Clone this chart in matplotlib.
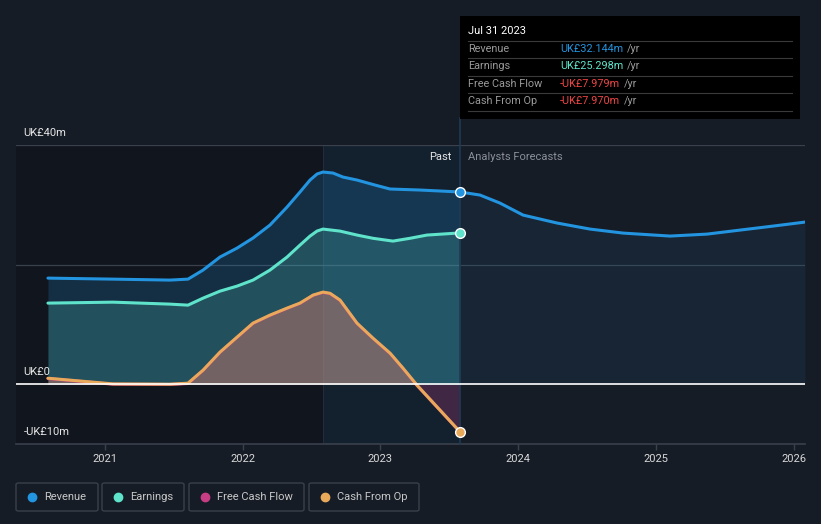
import matplotlib
matplotlib.use("Agg")
import matplotlib.pyplot as plt
from matplotlib.patches import FancyBboxPatch, Rectangle
from matplotlib.lines import Line2D

plt.rcParams['font.family'] = ['Roboto', 'DejaVu Sans']

# ---------------- data (UK£ m, decimal years) ----------------
rev_x = [2020.586, 2021.058, 2021.472, 2021.603, 2021.712, 2021.835, 2021.959, 2022.075,
         2022.198, 2022.322, 2022.416, 2022.489, 2022.540, 2022.583, 2022.656, 2022.728,
         2022.830, 2022.961, 2023.070, 2023.288, 2023.578]
rev_y = [17.74, 17.57, 17.41, 17.57, 19.08, 21.26, 22.76, 24.44,
         26.61, 29.62, 32.13, 34.14, 35.15, 35.48, 35.31, 34.64,
         34.14, 33.30, 32.64, 32.47, 32.144]

earn_x = [2020.586, 2021.058, 2021.472, 2021.603, 2021.712, 2021.835, 2021.959, 2022.075,
          2022.198, 2022.322, 2022.416, 2022.489, 2022.540, 2022.583, 2022.707, 2022.830,
          2022.946, 2023.091, 2023.215, 2023.338, 2023.578]
earn_y = [13.56, 13.72, 13.39, 13.22, 14.39, 15.56, 16.40, 17.41,
          19.08, 21.26, 23.26, 24.77, 25.61, 25.94, 25.60, 24.94,
          24.40, 23.93, 24.40, 24.94, 25.298]

cfo_x = [2020.586, 2021.058, 2021.472, 2021.603, 2021.712, 2021.835, 2021.959, 2022.075,
         2022.198, 2022.322, 2022.416, 2022.511, 2022.583, 2022.634, 2022.707, 2022.830,
         2022.946, 2023.070, 2023.164, 2023.266, 2023.578]
cfo_y = [1.0, 0.05, 0.0, 0.17, 2.34, 5.36, 7.87, 10.21,
         11.55, 12.72, 13.56, 14.90, 15.40, 15.20, 14.06, 10.21,
         7.70, 5.19, 2.68, -0.17, -7.970]
fcf_y = [0.95, 0.0, -0.05, 0.12, 2.29, 5.31, 7.82, 10.16,
         11.50, 12.67, 13.51, 14.85, 15.35, 15.15, 14.01, 10.16,
         7.65, 5.14, 2.63, -0.22, -7.979]

fc_x = [2023.578, 2023.723, 2023.868, 2024.036, 2024.283, 2024.522, 2024.762, 2025.103,
        2025.372, 2025.611, 2025.851, 2026.083]
fc_rev = [32.144, 31.63, 30.29, 28.28, 26.95, 25.94, 25.27, 24.77,
          25.10, 25.77, 26.44, 27.11]

year_ticks = [2021, 2022, 2023, 2024, 2025, 2026]
year_labels = ["2021", "2022", "2023", "2024", "2025", "2026"]
y_ticks = [40, 0, -10]
y_labels = ["UK£40m", "UK£0", "-UK£10m"]

tooltip_date = "Jul 31 2023"
tooltip_rows = [("Revenue", "UK£32.144m", "#2394df"),
                ("Earnings", "UK£25.298m", "#5fe3cb"),
                ("Free Cash Flow", "-UK£7.979m", "#ee4444"),
                ("Cash From Op", "-UK£7.970m", "#ee4444")]
legend_items = [("Revenue", "#2394df"), ("Earnings", "#5fe3cb"),
                ("Free Cash Flow", "#c83e84"), ("Cash From Op", "#e8a95b")]

# ---------------- style ----------------
BG = "#161c26"
C_REV = "#2394df"
C_EARN = "#5fe3cb"
C_FCF = "#c83e84"
C_CFO = "#e8a95b"
past_end = 2023.578
hl_start = 2022.583

W, H = 821, 524
fig = plt.figure(figsize=(W / 100, H / 100), dpi=100, facecolor=BG)

def fx(px):
    return px / W

def fy(py):
    return 1 - py / H

ax = fig.add_axes([fx(16), fy(444), fx(805) - fx(16), fy(145) - fy(444)])
ax.set_facecolor("none")
xmin, xmax = 2020.354, 2026.083
ax.set_xlim(xmin, xmax)
ax.set_ylim(-10, 40)

# background regions
ax.axvspan(xmin, hl_start, color="#11151d", zorder=0, lw=0)
ax.axvspan(hl_start, past_end, color="#13202e", zorder=0, lw=0)
ax.axvline(hl_start, color="#1f2d3c", lw=0.8, zorder=1)

# grid
for g in [40, 20]:
    ax.axhline(g, color="#3a414c", lw=0.9, zorder=1)

# fills
ax.fill_between(rev_x, rev_y, 0, color=C_REV, alpha=0.20, lw=0, zorder=2)
ax.fill_between(fc_x, fc_rev, 0, color=C_REV, alpha=0.08, lw=0, zorder=2)
ax.fill_between(earn_x, earn_y, 0, color=C_EARN, alpha=0.19, lw=0, zorder=3)
ax.fill_between(cfo_x, fcf_y, 0, color=C_FCF, alpha=0.25, lw=0, zorder=4)
ax.fill_between(cfo_x, cfo_y, 0, where=[v >= 0 for v in cfo_y], interpolate=True,
                color=C_CFO, alpha=0.25, lw=0, zorder=4)

# lines
kw = dict(lw=2.2, solid_capstyle="round", solid_joinstyle="round")
ax.plot(rev_x, rev_y, color=C_REV, zorder=6, **kw)
ax.plot(fc_x, fc_rev, color=C_REV, zorder=6, **kw)
ax.plot(earn_x, earn_y, color=C_EARN, zorder=6, **kw)
ax.plot(cfo_x, fcf_y, color=C_FCF, zorder=6, **kw)
ax.plot(cfo_x, cfo_y, color=C_CFO, zorder=7, **kw)

# end markers
for xs, ys, c in [(rev_x, rev_y, C_REV), (earn_x, earn_y, C_EARN), (cfo_x, cfo_y, C_CFO)]:
    ax.plot([xs[-1]], [ys[-1]], marker="o", ms=7, color=c, mec="white", mew=1.0, zorder=9)

# zero line
ax.axhline(0, color="white", lw=1.2, zorder=8)

# past / forecast divider extends up to tooltip
ax.plot([past_end, past_end], [-10, 40 + (145 - 118) / 5.975], color="#1f3a55", lw=1.2,
        zorder=5, clip_on=False)

# axes styling
for s in ["top", "right", "left"]:
    ax.spines[s].set_visible(False)
ax.spines["bottom"].set_color("#3a414c")
ax.spines["bottom"].set_linewidth(1.2)
ax.set_yticks([])
ax.set_xticks(year_ticks)
ax.set_xticklabels(year_labels)
ax.tick_params(axis="x", colors="#3a414c", length=4, width=1, labelcolor="#d8d8d8",
               labelsize=8, pad=3)

# y labels
for v, lab in zip(y_ticks, y_labels):
    ax.text(2020.41, v + 1.2, lab, color="#e6e6e6", fontsize=8, ha="left", va="bottom", zorder=10)

ax.text(past_end - 0.06, 38.0, "Past", color="#e6e6e6", fontsize=8, ha="right", va="center", zorder=10)
ax.text(past_end + 0.06, 38.0, "Analysts Forecasts", color="#8a8f98", fontsize=8, ha="left",
        va="center", zorder=10)

# tooltip
tip = Rectangle((fx(460), fy(119)), fx(800) - fx(460), fy(16) - fy(119), transform=fig.transFigure,
                facecolor="#000000", edgecolor="none", zorder=20)
fig.patches.append(tip)
fig.text(fx(468), fy(31), tooltip_date, color="#ffffff", fontsize=8, ha="left", va="center", zorder=21)
for yy in [41, 58, 76, 93, 111]:
    fig.add_artist(Line2D([fx(468), fx(792)], [fy(yy), fy(yy)], color="#3a3a3a", lw=0.8,
                          transform=fig.transFigure, zorder=21))
row_y = [49, 66, 84, 101]
for (lab, val, col), yy in zip(tooltip_rows, row_y):
    fig.text(fx(468), fy(yy), lab, color="#9a9a9a", fontsize=7.8, ha="left", va="center", zorder=21)
    t = fig.text(fx(560), fy(yy), val, color=col, fontsize=7.8, ha="left", va="center", zorder=21)
    fig.canvas.draw()
    bb = t.get_window_extent()
    fig.text(bb.x1 / W + fx(4), fy(yy), "/yr", color="#9a9a9a", fontsize=7.8, ha="left",
             va="center", zorder=21)

# legend
boxes = [(16, 98), (102, 184), (189, 304), (309, 419)]
for (lab, col), (x0, x1) in zip(legend_items, boxes):
    p = FancyBboxPatch((fx(x0), fy(511)), fx(x1) - fx(x0), fy(483) - fy(511),
                       boxstyle="round,pad=0,rounding_size=0.003", transform=fig.transFigure,
                       facecolor="none", edgecolor="#3a404a", lw=1.0)
    fig.patches.append(p)
    fig.add_artist(Line2D([fx(x0 + 16)], [fy(497)], marker="o", ms=6, color=col, lw=0,
                          transform=fig.transFigure))
    fig.text(fx(x0 + 28), fy(497), lab, color="#c8c8c8", fontsize=8, ha="left", va="center")

fig.savefig("out.png", dpi=100, facecolor=BG)
